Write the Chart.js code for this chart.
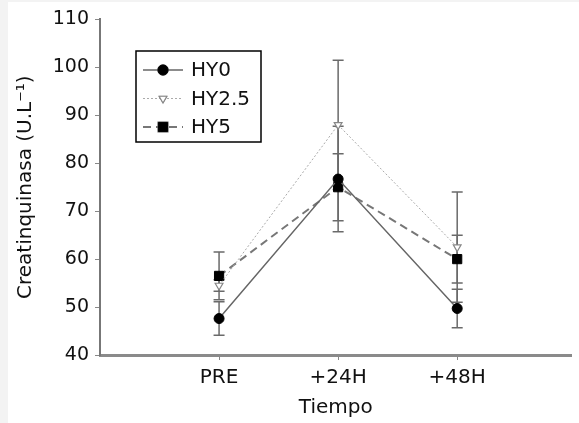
<!DOCTYPE html>
<html>
<head>
<meta charset="utf-8">
<script src="https://cdn.jsdelivr.net/npm/chart.js@4"></script>
<style>
  body { margin: 0; background: #f3f3f3; width: 579px; height: 423px; overflow: hidden; }
  #wrap { position: absolute; left: 8px; top: 2px; width: 571px; height: 421px; background: #fff; }
</style>
</head>
<body>
<div id="wrap"><canvas id="chart" width="571" height="421"></canvas></div>
<script>
const timepoints = ["PRE", "+24H", "+48H"];
const seriesNames = ["HY0", "HY2.5", "HY5"];
const hy0 = [47.6, 76.7, 49.7];
const hy0Err = [3.5, 11, 4];
const hy25 = [54.5, 88, 62.5];
const hy25Err = [1.2, 13.5, 11.5];
const hy5 = [56.5, 75, 60];
const hy5Err = [5, 7, 5];
const yTicks = [40, 50, 60, 70, 80, 90, 100, 110];

const FONT = "'DejaVu Sans', Verdana, sans-serif";
const ctx = document.getElementById("chart").getContext("2d");

function pts(values) {
  return values.map((v, i) => ({ x: i + 1, y: v }));
}

/* error bars drawn under the points */
const errorBars = {
  id: "errorBars",
  beforeDatasetsDraw(chart) {
    const c = chart.ctx;
    const xs = chart.scales.x;
    const ys = chart.scales.y;
    c.save();
    c.strokeStyle = "#6a6a6a";
    c.lineWidth = 1.5;
    chart.data.datasets.forEach((ds) => {
      ds.data.forEach((p, i) => {
        const e = ds.errors[i];
        const x = xs.getPixelForValue(p.x);
        const top = ys.getPixelForValue(p.y + e);
        const bot = ys.getPixelForValue(p.y - e);
        c.beginPath();
        c.moveTo(x, top);
        c.lineTo(x, bot);
        c.moveTo(x - 5.5, top);
        c.lineTo(x + 5.5, top);
        c.moveTo(x - 5.5, bot);
        c.lineTo(x + 5.5, bot);
        c.stroke();
      });
    });
    c.restore();
  },
};

/* boxed legend inside the plot */
const boxLegend = {
  id: "boxLegend",
  afterDraw(chart) {
    const c = chart.ctx;
    c.save();
    c.strokeStyle = "#000";
    c.lineWidth = 1.5;
    c.strokeRect(128, 49, 125, 91);
    chart.data.datasets.forEach((ds, i) => {
      const y = 68 + i * 28.5;
      c.strokeStyle = ds.borderColor;
      c.lineWidth = ds.borderWidth;
      c.setLineDash(ds.borderDash || []);
      c.beginPath();
      c.moveTo(135, y);
      c.lineTo(175, y);
      c.stroke();
      c.setLineDash([]);
      Chart.helpers.drawPoint(c, {
        pointStyle: ds.pointStyle,
        radius: ds.pointRadius,
        rotation: ds.rotation || 0,
        borderWidth: ds.pointBorderWidth,
      }, 155, y);
      c.fillStyle = ds.pointBackgroundColor;
      c.strokeStyle = ds.pointBorderColor;
      c.lineWidth = ds.pointBorderWidth;
      c.beginPath();
      if (ds.pointStyle === "circle") {
        c.arc(155, y, ds.pointRadius, 0, Math.PI * 2);
      } else if (ds.pointStyle === "rect") {
        const s = Math.SQRT1_2 * ds.pointRadius;
        c.rect(155 - s, y - s, 2 * s, 2 * s);
      } else {
        const r = ds.pointRadius;
        c.moveTo(155 - r * 0.87, y - r * 0.5);
        c.lineTo(155 + r * 0.87, y - r * 0.5);
        c.lineTo(155, y + r);
        c.closePath();
      }
      c.fill();
      c.stroke();
      c.fillStyle = "#111";
      c.font = "20px " + FONT;
      c.textBaseline = "middle";
      c.fillText(ds.label, 183, y + 1);
    });
    c.restore();
  },
};

new Chart(ctx, {
  type: "line",
  data: {
    datasets: [
      {
        label: seriesNames[0],
        data: pts(hy0),
        errors: hy0Err,
        borderColor: "#666",
        borderWidth: 1.5,
        pointStyle: "circle",
        pointRadius: 5,
        pointBackgroundColor: "#000",
        pointBorderColor: "#000",
        pointBorderWidth: 1,
      },
      {
        label: seriesNames[1],
        data: pts(hy25),
        errors: hy25Err,
        borderColor: "#aaa",
        borderWidth: 1,
        borderDash: [2, 2],
        pointStyle: "triangle",
        rotation: 180,
        pointRadius: 4.5,
        pointBackgroundColor: "#fff",
        pointBorderColor: "#888",
        pointBorderWidth: 1.2,
      },
      {
        label: seriesNames[2],
        data: pts(hy5),
        errors: hy5Err,
        borderColor: "#777",
        borderWidth: 2,
        borderDash: [8, 5],
        pointStyle: "rect",
        pointRadius: 6.5,
        pointBackgroundColor: "#000",
        pointBorderColor: "#000",
        pointBorderWidth: 1,
      },
    ],
  },
  options: {
    responsive: false,
    animation: false,
    layout: { padding: { top: 15, right: 0, left: 0, bottom: 0 } },
    plugins: {
      legend: { display: false },
      tooltip: { enabled: false },
    },
    scales: {
      x: {
        type: "linear",
        min: 0,
        max: 3.96,
        afterBuildTicks: (scale) => {
          scale.ticks = timepoints.map((t, i) => ({ value: i + 1 }));
        },
        afterFit: (scale) => {
          scale.height = 68;
        },
        ticks: {
          callback: (v) => timepoints[v - 1],
          color: "#111",
          font: { family: FONT, size: 20 },
          padding: 6,
          maxRotation: 0,
        },
        grid: { drawOnChartArea: false, drawTicks: true, tickLength: 5, color: "#888" },
        border: { color: "#8a8a8a", width: 3 },
        title: {
          display: true,
          text: "Tiempo",
          color: "#111",
          font: { family: FONT, size: 20 },
          padding: { top: 0, bottom: 3 },
        },
      },
      y: {
        min: 40,
        max: 110,
        afterBuildTicks: (scale) => {
          scale.ticks = yTicks.map((v) => ({ value: v }));
        },
        afterFit: (scale) => {
          scale.width = 92;
        },
        ticks: {
          color: "#111",
          font: { family: FONT, size: 19 },
          padding: 6,
        },
        grid: { drawOnChartArea: false, drawTicks: true, tickLength: 5, color: "#888" },
        border: { color: "#777", width: 2 },
        title: {
          display: true,
          text: "Creatinquinasa (U.L\u207B\u00B9)",
          color: "#111",
          font: { family: FONT, size: 20 },
          padding: { top: 6, bottom: 0 },
        },
      },
    },
  },
  plugins: [errorBars, boxLegend],
});
</script>
</body>
</html>
